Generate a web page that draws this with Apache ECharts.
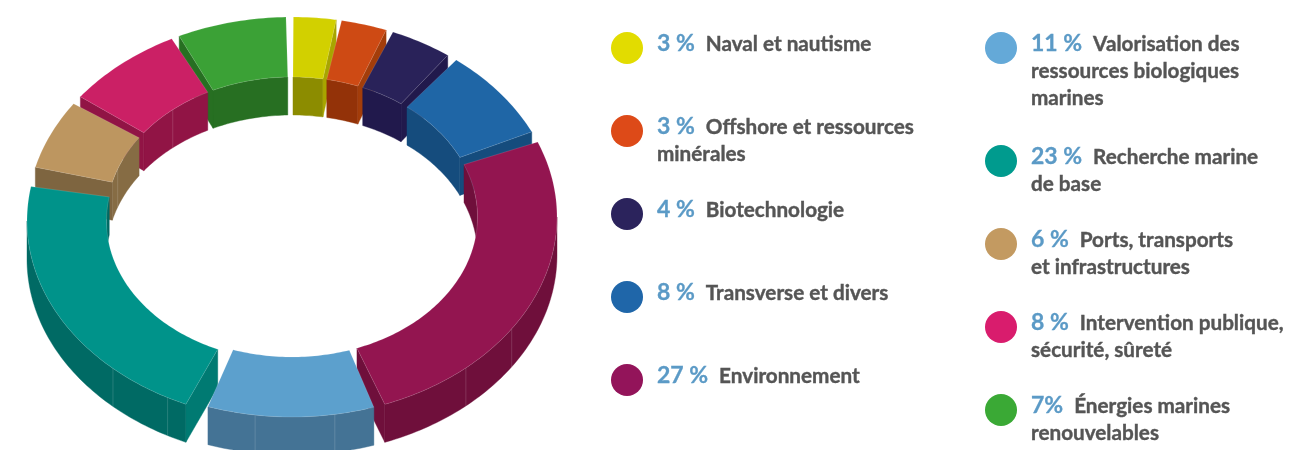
<!DOCTYPE html>
<html>
<head>
<meta charset="utf-8">
<style>html,body{margin:0;padding:0;background:#fff}#chart{width:1294px;height:450px}</style>
<script src="https://cdn.jsdelivr.net/npm/echarts@6/dist/echarts.min.js"></script>
</head>
<body>
<div id="chart"></div>
<script>
// parts du camembert, dans le sens horaire depuis le haut
const shares = [3, 3, 4, 8, 27, 11, 23, 6, 8, 7];
const pctLabels = ['3 %', '3 %', '4 %', '8 %', '27 %', '11 %', '23 %', '6 %', '8 %', '7%'];
const labelLines = [
  ['Naval et nautisme'],
  ['Offshore et ressources', 'minérales'],
  ['Biotechnologie'],
  ['Transverse et divers'],
  ['Environnement'],
  ['Valorisation des', 'ressources biologiques', 'marines'],
  ['Recherche marine', 'de base'],
  ['Ports, transports', 'et infrastructures'],
  ['Intervention publique,', 'sécurité, sûreté'],
  ['Énergies marines', 'renouvelables'],
];

const topColors = ['#d2d000', '#ce4a14', '#292259', '#1f66a6', '#931550', '#5ca0cd', '#00938a', '#bd9660', '#cb2065', '#3ba136'];
const wallColors = ['#8c8c00', '#933208', '#21194c', '#154c7d', '#6f0f3b', '#447395', '#006a64', '#866c44', '#911445', '#276f22'];
const endColors = ['#a8a500', '#a33d0a', '#21194c', '#154c7d', '#6f0f3b', '#447395', '#007a72', '#7e6540', '#911445', '#276f22'];
const dotColors = ['#e2dc00', '#dd4a18', '#2b235c', '#1f66a9', '#93145a', '#64a9d8', '#009b8e', '#c39a61', '#d91c6d', '#3aa935'];

// retraits en degrés (début, fin) : les parts ne se touchent pas tout à fait
const trims = [[0.3, 1.2], [0, 0.8], [0.8, 0], [2.3, 0], [3.2, 2.5], [0, 3.1], [2, 4.5], [0, 1.5], [1, 1.8], [0, 1.3]];
// décalage d'éclatement en pixels, seule la part "recherche" bouge
const explode = [[0, 0], [0, 0], [0, 0], [0, 0], [0, 0], [0, 0], [0, 4], [0, 0], [0, 0], [0, 0]];
const seams = [124, 139, 170.7, 188, 208, 222.5, 290, 320];

const INNER = 0.7;
const DEPTH = 38;

const starts = [];
shares.reduce((sum, v, i) => { starts[i] = sum; return sum + v; }, 0);

const rad = d => d * Math.PI / 180;
const range = (a, b) => {
  const out = [];
  for (let d = a; d < b; d += 1) out.push(d);
  out.push(b);
  return out;
};

function renderSlice(params, api) {
  const i = api.value(0);
  const a0 = starts[i] * 3.6 + trims[i][0];
  const a1 = (starts[i] + api.value(1)) * 3.6 - trims[i][1];
  const mid = (a0 + a1) / 2;
  const z2 = Math.round((1 - Math.cos(rad(mid))) * 100);

  const pt = (deg, r, drop) => {
    const p = api.coord([r * Math.sin(rad(deg)), r * Math.cos(rad(deg))]);
    return [p[0] + explode[i][0], p[1] + explode[i][1] + (drop ? DEPTH : 0)];
  };
  const poly = (points, fill, z) => ({
    type: 'polygon',
    z2: z2 + z,
    shape: { points },
    style: { fill, stroke: fill, lineWidth: 0.4 },
  });
  const wall = (from, to, r) => {
    const arc = range(from, to);
    return poly(arc.map(d => pt(d, r)).concat(arc.slice().reverse().map(d => pt(d, r, true))), wallColors[i], 0);
  };

  const children = [];
  // murs extérieurs (face au lecteur) entre 90 et 270 degrés
  const ox0 = Math.max(a0, 90), ox1 = Math.min(a1, 270);
  if (ox0 < ox1) children.push(wall(ox0, ox1, 1));
  // murs intérieurs visibles au fond de l'anneau
  if (a0 < 90) children.push(wall(a0, Math.min(a1, 90), INNER));
  if (a1 > 270) children.push(wall(Math.max(a0, 270), a1, INNER));

  // tranches radiales
  const endFace = d => poly([pt(d, 1), pt(d, INNER), pt(d, INNER, true), pt(d, 1, true)], endColors[i], 0.5);
  if (Math.sin(rad(a1)) > 0) children.push(endFace(a1));
  if (Math.sin(rad(a0)) < 0) children.push(endFace(a0));

  // raccords clairs sur les murs
  seams.filter(d => d > a0 && d < a1).forEach(d => {
    const r = d > 90 && d < 270 ? 1 : INNER;
    const p = pt(d, r), q = pt(d, r, true);
    children.push({
      type: 'line',
      z2: z2 + 0.6,
      shape: { x1: p[0], y1: p[1], x2: q[0], y2: q[1] },
      style: { stroke: 'rgba(255,255,255,0.15)', lineWidth: 1 },
    });
  });

  const arc = range(a0, a1);
  children.push({
    type: 'polygon',
    z2: z2 + 1,
    shape: { points: arc.map(d => pt(d, 1)).concat(arc.slice().reverse().map(d => pt(d, INNER))) },
    style: { fill: topColors[i], stroke: 'rgba(255,255,255,0.22)', lineWidth: 0.6 },
  });
  return { type: 'group', children };
}

// légende : deux colonnes de pastilles et de textes
const legendRows = [48, 131, 214, 297, 380, 48, 161, 244, 327, 410];
const legendDots = [627, 627, 627, 627, 627, 1001, 1001, 1001, 1001, 1001];
const legendGraphics = [];
shares.forEach((v, i) => {
  legendGraphics.push({
    type: 'circle',
    silent: true,
    shape: { cx: legendDots[i], cy: legendRows[i], r: 16 },
    style: { fill: dotColors[i] },
  });
  const lines = labelLines[i];
  const first = '{pct|' + pctLabels[i] + '}{txt|' + lines[0] + '}';
  const rest = lines.slice(1).map(l => '{txt|' + l + '}');
  legendGraphics.push({
    type: 'text',
    silent: true,
    x: legendDots[i] + 30,
    y: legendRows[i] - 17.5,
    style: {
      text: [first].concat(rest).join('\n'),
      fontFamily: 'Lato',
      rich: {
        pct: { fontFamily: 'Lato', fontSize: 23, fontWeight: 700, fill: '#5b9ac6', stroke: '#5b9ac6', lineWidth: 0.3, lineHeight: 27, padding: [0, 11, 0, 0] },
        txt: { fontFamily: 'Lato', fontSize: 20.7, fontWeight: 700, fill: '#555555', stroke: '#555555', lineWidth: 0.4, lineHeight: 27 },
      },
    },
  });
});

const chart = echarts.init(document.getElementById('chart'), null, { renderer: 'canvas' });
chart.setOption({
  animation: false,
  backgroundColor: '#fff',
  grid: { left: 27, top: 17, width: 530, height: 400 },
  xAxis: { type: 'value', min: -1, max: 1, show: false },
  yAxis: { type: 'value', min: -1, max: 1, show: false },
  graphic: legendGraphics,
  series: [{
    type: 'custom',
    silent: true,
    renderItem: renderSlice,
    encode: { x: 0, y: 1 },
    clip: false,
    data: shares.map((v, i) => [i, v]),
  }],
});
</script>
</body>
</html>
